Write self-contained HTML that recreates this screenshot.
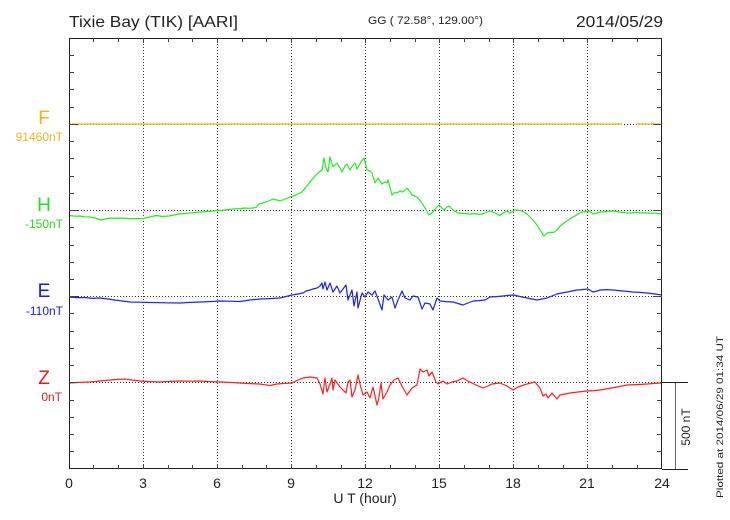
<!DOCTYPE html>
<html>
<head>
<meta charset="utf-8">
<style>
html,body{margin:0;padding:0;background:#fff;}
svg{display:block;}
text{font-family:"Liberation Sans","DejaVu Sans",sans-serif;}
</style>
</head>
<body>
<svg width="730" height="520" viewBox="0 0 730 520" xmlns="http://www.w3.org/2000/svg">
<rect width="730" height="520" fill="#fff"/>

<!-- Title -->
<text x="69" y="27" font-size="16" fill="#222" textLength="169" lengthAdjust="spacingAndGlyphs">Tixie Bay (TIK)  [AARI]</text>
<text x="368" y="24" font-size="11" fill="#222" textLength="115" lengthAdjust="spacingAndGlyphs">GG ( 72.58°, 129.00°)</text>
<text x="663" y="27" font-size="16" fill="#222" text-anchor="end" textLength="87" lengthAdjust="spacingAndGlyphs">2014/05/29</text>

<!-- vertical dotted grid -->
<g stroke="#333" stroke-width="1" stroke-dasharray="1,2" shape-rendering="crispEdges">
<line x1="143.5" y1="38" x2="143.5" y2="469"/>
<line x1="217.5" y1="38" x2="217.5" y2="469"/>
<line x1="291.5" y1="38" x2="291.5" y2="469"/>
<line x1="365.5" y1="38" x2="365.5" y2="469"/>
<line x1="439.5" y1="38" x2="439.5" y2="469"/>
<line x1="513.5" y1="38" x2="513.5" y2="469"/>
<line x1="587.5" y1="38" x2="587.5" y2="469"/>
<!-- baselines -->
<line x1="69" y1="124.5" x2="662" y2="124.5"/>
<line x1="69" y1="210.5" x2="662" y2="210.5"/>
<line x1="69" y1="296.5" x2="662" y2="296.5"/>
<line x1="69" y1="382.5" x2="662" y2="382.5"/>
</g>

<!-- F trace -->
<g stroke="#f5c23c" stroke-width="1.4" fill="none">
<line x1="69" y1="124" x2="622" y2="124"/>
<line x1="636" y1="124" x2="662" y2="124"/>
</g>

<!-- H trace -->
<polyline fill="none" stroke="#22ee22" stroke-width="1.2" stroke-linejoin="round" points="69,215.5 75,216.2 80,216 85,216.8 90,217 95,218 101,220 105,219 110,218 115,218.4 120,218 130,218.6 143,218.5 147,217.6 150,217 156,215.5 162,216.4 169,216 174,215 179,214 188,213.2 200,212 210,211.4 218,210.5 225,210 233,209 240,208.6 245,208 250,208.3 256,207.5 259,204 263,203 266,202 270,200.5 273,199 277,200 280,201 285,199 290,197 296,195 302,192 306,187 310,182 314,177 318,173 322,170 324,158 326,168 328,172 330,157 333,167 337,163 340,168 342,172 345,166 347,164 350,170 353,165 355,163 357,169 361,162 364,158 367,170 370,171 372,173 375,183 378,178 380,181 382,184 385,182 387,183 388,180 392,195 395,192 397,193 400,191 403,192 407,188 410,192 412,195 415,196 418,198 422,203 425,208 429,215 433,212 436,208 439,205 441,207 444,210 447,207 449,206 453,210 458,213 465,213.5 470,214 475,213.6 480,214.5 485,213 490,211 495,213 500,215.5 503,213 507,211 510,213 515,210 520,210.5 524,212 527,214 530,217 533,220 537,225 540,230 542,233 544,236 547,233 551,232.5 555,232 558,229 560,226 564,223 567,221 571,218 575,216 578,214 582,212 586,211.5 590,211 593,214 597,213 600,212 606,211.6 613,211 620,212 627,213 637,212.6 647,213 655,213.2 662,214"/>

<!-- E trace -->
<polyline fill="none" stroke="#2222ee" stroke-width="1.2" stroke-linejoin="round" points="69,297 77,297.6 85,297.5 92,298.4 100,298 108,299 115,300 122,301 130,302 140,302.2 150,302.5 165,302.8 180,303 190,302.4 200,302 210,301.6 220,301 230,301.2 240,301.5 250,300 260,299 270,298.6 280,298 286,296.5 292,295 298,294 303,293 306,291 310,290 313,289 317,288 320,286 322,283 323,289 325,282 327,290 330,283 333,292 337,286 340,293 343,289 346,285 348,300 352,290 354,306 357,292 358,308 362,293 365,297 368,292 372,295 375,291 378,299 382,310 384,295 388,300 392,297 395,308 398,300 402,291 405,298 410,300 413,296 418,297 422,309 425,303 430,304 433,310 437,298 440,301 446,301.6 453,302 458,303.5 463,305 468,303 473,301 479,300.6 485,300 490,297 496,296.6 503,296 508,295.4 513,295 520,296.5 527,298 532,299 537,300 542,299 547,298 552,296 557,294 562,293 567,292 572,291 577,290 582,289.6 588,289 593,292 597,291 600,290 606,289.6 613,290 623,291 633,292 640,292.4 647,293 655,294 662,295"/>

<!-- Z trace -->
<polyline fill="none" stroke="#ff2020" stroke-width="1.2" stroke-linejoin="round" points="69,383 80,382.4 90,382 100,381 110,380 118,379.4 125,379 132,380 140,381 150,381.6 160,382 170,381.4 180,381 190,381.2 200,381 210,381.6 220,382 230,382.4 240,383 250,383.6 260,384 265,384.8 270,385.5 277,384 285,383.4 292,383 298,380 303,378 310,377 317,378 320,384 323,394 325,378 327,392 330,384 332,378 333,390 335,380 340,387 346,393 348,382 350,380 352,397 355,390 358,375 360,384 363,395 367,392 370,398 373,387 377,405 379,397 381,383 383,399 387,392 390,385 394,380 398,378 403,388 407,395 412,388 417,385 420,369 423,372 427,370 429,376 432,372 436,382 438,384 443,381 447,384 452,382 457,381 463,378 466,380 470,382 476,385 483,388 488,386 492,384 500,383 507,386 513,390 518,387 522,385.6 527,384 535,382 540,388 543,396 546,394 548,398 552,393 557,399 560,395 565,394 570,393 578,392 587,391 594,390.6 600,390 608,388.6 617,387 622,386 627,385 637,384.6 647,384 655,383.4 662,383"/>

<!-- Axes box -->
<g stroke="#222" stroke-width="1" fill="none" shape-rendering="crispEdges">
<rect x="69.5" y="38.5" width="592" height="430"/>
<line x1="662" y1="469.5" x2="688" y2="469.5"/>
<line x1="662" y1="382.5" x2="688" y2="382.5"/>
</g>
<line x1="675.5" y1="383" x2="675.5" y2="469" stroke="#666" stroke-width="1" shape-rendering="crispEdges"/>

<!-- ticks -->
<g stroke="#444" stroke-width="1" shape-rendering="crispEdges">
<path d="M93.5 38v4M118.5 38v4M143.5 38v5M168.5 38v4M192.5 38v4M217.5 38v5M242.5 38v4M266.5 38v4M291.5 38v5M316.5 38v4M341.5 38v4M365.5 38v5M390.5 38v4M415.5 38v4M439.5 38v5M464.5 38v4M489.5 38v4M513.5 38v5M538.5 38v4M563.5 38v4M587.5 38v5M612.5 38v4M637.5 38v4"/>
<path d="M93.5 469v-4M118.5 469v-4M143.5 469v-5M168.5 469v-4M192.5 469v-4M217.5 469v-5M242.5 469v-4M266.5 469v-4M291.5 469v-5M316.5 469v-4M341.5 469v-4M365.5 469v-5M390.5 469v-4M415.5 469v-4M439.5 469v-5M464.5 469v-4M489.5 469v-4M513.5 469v-5M538.5 469v-4M563.5 469v-4M587.5 469v-5M612.5 469v-4M637.5 469v-4"/>
<path d="M69 55.5h5M69 72.5h5M69 89.5h5M69 107.5h5M69 124.5h9M69 141.5h5M69 158.5h5M69 176.5h5M69 193.5h5M69 210.5h9M69 227.5h5M69 245.5h5M69 262.5h5M69 279.5h5M69 296.5h9M69 313.5h5M69 331.5h5M69 348.5h5M69 365.5h5M69 382.5h9M69 400.5h5M69 417.5h5M69 434.5h5M69 451.5h5"/>
<path d="M662 55.5h-5M662 72.5h-5M662 89.5h-5M662 107.5h-5M662 124.5h-9M662 141.5h-5M662 158.5h-5M662 176.5h-5M662 193.5h-5M662 210.5h-9M662 227.5h-5M662 245.5h-5M662 262.5h-5M662 279.5h-5M662 296.5h-9M662 313.5h-5M662 331.5h-5M662 348.5h-5M662 365.5h-5M662 400.5h-5M662 417.5h-5M662 434.5h-5M662 451.5h-5"/>
</g>

<!-- Component labels -->
<text x="44" y="124" font-size="19" fill="#f5b21e" text-anchor="middle">F</text>
<text x="63" y="141" font-size="12" fill="#f5b21e" text-anchor="end">91460nT</text>
<text x="44" y="211" font-size="19" fill="#22dd22" text-anchor="middle">H</text>
<text x="63" y="228" font-size="12" fill="#22dd22" text-anchor="end">-150nT</text>
<text x="44" y="297" font-size="19" fill="#1a1aee" text-anchor="middle">E</text>
<text x="63" y="315" font-size="12" fill="#1a1aee" text-anchor="end">-110nT</text>
<text x="44" y="384" font-size="19" fill="#ee1a1a" text-anchor="middle">Z</text>
<text x="62" y="401" font-size="12" fill="#ee1a1a" text-anchor="end">0nT</text>

<!-- x tick labels -->
<g font-size="14" fill="#222" text-anchor="middle">
<text x="69" y="488">0</text>
<text x="143" y="488">3</text>
<text x="217" y="488">6</text>
<text x="291" y="488">9</text>
<text x="365" y="488">12</text>
<text x="439" y="488">15</text>
<text x="513" y="488">18</text>
<text x="587" y="488">21</text>
<text x="662" y="488">24</text>
</g>
<text x="365" y="503" font-size="14" fill="#222" text-anchor="middle">U T (hour)</text>

<text transform="translate(690,427) rotate(-90)" font-size="12" fill="#222" text-anchor="middle">500 nT</text>
<text transform="translate(723,417) rotate(-90)" font-size="9" fill="#222" text-anchor="middle" textLength="162" lengthAdjust="spacingAndGlyphs">Plotted at 2014/06/29 01:34 UT</text>
</svg>
</body>
</html>
